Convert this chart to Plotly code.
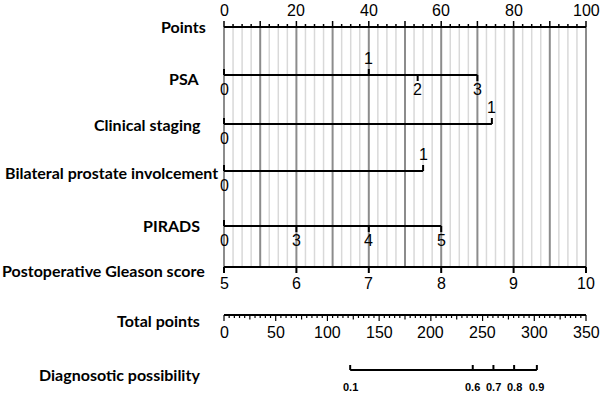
import plotly.graph_objects as go

# ---------------- data ----------------
points_labels = [0, 20, 40, 60, 80, 100]

psa_values = ["0", "1", "2", "3"]
psa_points = [0, 40, 53.5, 70]
psa_side = ["below", "above", "below", "below"]

clin_values = ["0", "1"]
clin_points = [0, 74]
clin_side = ["below", "above"]

bil_values = ["0", "1"]
bil_points = [0, 55]
bil_side = ["below", "above"]

pirads_values = ["0", "3", "4", "5"]
pirads_points = [0, 20, 40, 60]
pirads_side = ["below", "below", "below", "below"]

gleason_values = ["5", "6", "7", "8", "9", "10"]
gleason_points = [0, 20, 40, 60, 80, 100]

total_labels = [0, 50, 100, 150, 200, 250, 300, 350]
total_max = 350

prob_values = ["0.1", "0.6", "0.7", "0.8", "0.9"]
prob_total = [122, 240.5, 260.5, 280.5, 302.5]

# ---------------- layout helpers ----------------
PX_PER_PT = 3.62
X0_PX = 224
W, H = 603, 395
xr = [-X0_PX / PX_PER_PT, (W - X0_PX) / PX_PER_PT]

def t2p(t):  # total points -> points scale
    return t * 100.0 / total_max

fig = go.Figure()
shapes = []
ann = []

LBL_FONT = dict(family="Lato", size=16, color="black")
NUM_FONT = dict(family="Liberation Sans", size=16, color="black")

def seg(x0, y0, x1, y1, color="black", width=2, layer="above"):
    shapes.append(dict(type="line", xref="x", yref="y", x0=x0, y0=y0, x1=x1, y1=y1,
                       line=dict(color=color, width=width), layer=layer))

def text(x, y, s, font, xanchor="center", yanchor="middle"):
    ann.append(dict(x=x, y=y, xref="x", yref="y", text=s, showarrow=False,
                    font=font, xanchor=xanchor, yanchor=yanchor))

def label(y, s, right_px=205):
    text(xr[0] + right_px / PX_PER_PT, y, "<b>%s</b>" % s, LBL_FONT, xanchor="right")

# grid
Y_TOP, Y_BOT = 27, 267
k = 0
while k * 2.5 <= 100 + 1e-9:
    v = k * 2.5
    if k % 4 == 0:
        seg(v, Y_TOP, v, Y_BOT, color="#8c8c8c", width=2, layer="below")
    else:
        seg(v, Y_TOP, v, Y_BOT, color="#d9d9d9", width=1.5, layer="below")
    k += 1

# Points axis
label(26, "Points", 208)
seg(0, Y_TOP, 100, Y_TOP)
k = 0
while k * 2.5 <= 100 + 1e-9:
    v = k * 2.5
    seg(v, Y_TOP, v, Y_TOP - (6 if k % 4 == 0 else 3), width=1.5)
    k += 1
for v in points_labels:
    text(v, 10, str(v), NUM_FONT)

# variable rows
def variable(y, name, vals, pts, side, label_dy=0, right_px=203):
    label(y + label_dy, name, right_px)
    seg(min(pts), y, max(pts), y)
    for i, (v, p, s) in enumerate(zip(vals, pts, side)):
        up = (s == "above") or i == 0
        seg(p, y, p, y - 6 if up else y + 6, width=2)
        if s == "above":
            text(p, y - 17, v, NUM_FONT)
        else:
            text(p, y + 14, v, NUM_FONT)

variable(75, "PSA", psa_values, psa_points, psa_side, label_dy=3, right_px=201)
variable(124, "Clinical staging", clin_values, clin_points, clin_side, label_dy=0, right_px=203)
variable(171, "Bilateral prostate involcement", bil_values, bil_points, bil_side, label_dy=1, right_px=220)
variable(226, "PIRADS", pirads_values, pirads_points, pirads_side, label_dy=-1, right_px=202)

# Gleason
label(270, "Postoperative Gleason score", 207)
seg(0, 267, 100, 267)
for v, p in zip(gleason_values, gleason_points):
    seg(p, 267, p, 273)
    text(p, 283, v, NUM_FONT)

# Total points
label(320, "Total points", 202)
seg(0, 315, t2p(total_max), 315)
for t in range(0, total_max + 1, 5):
    seg(t2p(t), 315, t2p(t), 315 + (6 if t % 50 == 0 else (4.5 if t % 25 == 0 else 3)), width=1.2)
for t in total_labels:
    text(t2p(t), 332, str(t), NUM_FONT)

# Diagnostic possibility
label(374, "Diagnosotic possibility", 202)
seg(t2p(min(prob_total)), 370, t2p(max(prob_total)), 370)
for v, t in zip(prob_values, prob_total):
    seg(t2p(t), 370, t2p(t), 365)
    text(t2p(t), 387, "<b>%s</b>" % v, dict(family="Liberation Sans", size=11, color="black"))

fig.add_trace(go.Scatter(x=[xr[0], xr[1]], y=[0, H], mode="markers",
                         marker=dict(opacity=0), hoverinfo="skip", showlegend=False))

fig.update_layout(
    width=W, height=H, margin=dict(l=0, r=0, t=0, b=0),
    paper_bgcolor="white", plot_bgcolor="white",
    xaxis=dict(range=xr, visible=False, fixedrange=True),
    yaxis=dict(range=[H, 0], visible=False, fixedrange=True),
    shapes=shapes, annotations=ann, showlegend=False,
)
fig.write_html("out.html")
